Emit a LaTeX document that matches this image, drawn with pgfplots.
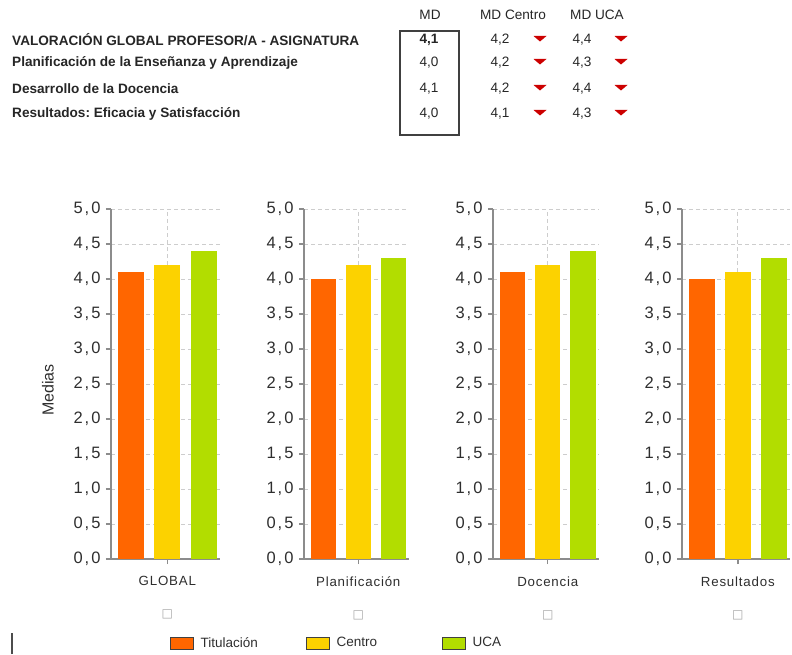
\documentclass[border=0pt]{standalone}
\usepackage{pgfplots}
\pgfplotsset{compat=1.18}
\usepackage{fontspec}
\setmainfont{Liberation Sans}
\newfontfamily\tickfont[LetterSpace=12]{Liberation Sans}
\newfontfamily\catfont[LetterSpace=6]{Liberation Sans}
\newfontfamily\symfont{DejaVu Sans}
\frenchspacing
\definecolor{cTit}{HTML}{FF6600}
\definecolor{cCen}{HTML}{FCD200}
\definecolor{cUCA}{HTML}{B2DD00}
\definecolor{axgray}{HTML}{8C8C8C}
\definecolor{gridgray}{HTML}{CDCDCD}
\definecolor{txt}{HTML}{2E2E2E}
\definecolor{tri}{HTML}{CC0000}
\pgfplotsset{panel/.style={
  scale only axis, width=#1, height=350pt, anchor=south west,
  xmin=-0.55, xmax=2.45, ymin=0, ymax=5,
  axis x line=bottom, axis y line=left,
  axis line style={-, axgray, line width=1.6pt},
  xtick={1}, ytick={0,0.5,1,1.5,2,2.5,3,3.5,4,4.5,5},
  yticklabels={{0,0},{0,5},{1,0},{1,5},{2,0},{2,5},{3,0},{3,5},{4,0},{4,5},{5,0}},
  tick align=outside, major tick length=5pt,
  tick style={axgray, line width=1.4pt},
  grid=major,
  major grid style={gridgray, dash pattern=on 4pt off 3pt, line width=0.9pt},
  yticklabel style={font=\tickfont\fontsize{16.5}{18}\selectfont, text=txt, xshift=-2pt},
  xticklabel style={font=\catfont\fontsize{13.3}{15}\selectfont, text=txt, align=center, yshift=-9pt},
  clip=false,
}}
\newcommand{\bx}{{\symfont\fontsize{12}{12}\selectfont\color{gray!70}□}}
\newcommand{\tr}[2]{\fill[tri] (#1pt-6.5pt,#2pt+2.5pt) -- (#1pt+6.5pt,#2pt+2.5pt) -- (#1pt,#2pt-3pt) -- cycle;}
\begin{document}
\begin{tikzpicture}
\useasboundingbox (0,0) rectangle (792pt,654pt);
% ---- top table ----
\begin{scope}[every node/.style={inner sep=0pt, text=black!85, font=\fontsize{13.6}{15}\selectfont}]
\node at (430pt,639pt) {MD};
\node at (513pt,639pt) {MD Centro};
\node at (597pt,639pt) {MD UCA};
\node[anchor=west, font=\fontsize{13.6}{15}\selectfont\bfseries] at (12pt,614pt) {VALORACIÓN GLOBAL PROFESOR/A - ASIGNATURA};
\node[anchor=west, font=\fontsize{13.6}{15}\selectfont\bfseries] at (12pt,591pt) {Planificación de la Enseñanza y Aprendizaje};
\node[anchor=west, font=\fontsize{13.6}{15}\selectfont\bfseries] at (12pt,565pt) {Desarrollo de la Docencia};
\node[anchor=west, font=\fontsize{13.6}{15}\selectfont\bfseries] at (12pt,540pt) {Resultados: Eficacia y Satisfacción};
\node[font=\fontsize{13.6}{15}\selectfont\bfseries] at (429pt,614pt) {4,1};
\node at (429pt,591pt) {4,0};
\node at (429pt,565pt) {4,1};
\node at (429pt,540pt) {4,0};
\node at (500pt,614pt) {4,2};
\node at (500pt,591pt) {4,2};
\node at (500pt,565pt) {4,2};
\node at (500pt,540pt) {4,1};
\node at (582pt,614pt) {4,4};
\node at (582pt,591pt) {4,3};
\node at (582pt,565pt) {4,4};
\node at (582pt,540pt) {4,3};
\end{scope}
\draw[line width=1.3pt, black!75] (400pt,519pt) rectangle (459pt,623pt);
\tr{540}{615.5}\tr{540}{592.5}\tr{540}{566.5}\tr{540}{541.5}
\tr{621}{615.5}\tr{621}{592.5}\tr{621}{566.5}\tr{621}{541.5}
% ---- panels ----
\begin{axis}[panel=109pt, at={(111pt,95pt)},
  xticklabels={{GLOBAL\\[17pt]\bx}},
  ylabel={Medias},
  ylabel style={at={(axis description cs:-0.578,0.483)}, anchor=center, font=\fontsize{16}{18}\selectfont, text=txt},
  legend columns=3,
  legend style={at={(axis description cs:0.535,-0.24)}, anchor=west, draw=none, fill=none,
    inner sep=0pt, column sep=0pt, font=\fontsize{13.5}{15}\selectfont, text=txt},
  legend image code/.code={\draw[#1, draw=black!75, line width=1pt] (0pt,-6pt) rectangle (23pt,6pt);},
]
\addplot[ybar, bar width=0.72, bar shift=0pt, fill=cTit, draw=none] coordinates {(0,4.1)};
\addlegendentry{\hspace{5pt}\makebox[103pt][l]{Titulación}}
\addplot[ybar, bar width=0.72, bar shift=0pt, fill=cCen, draw=none] coordinates {(1,4.2)};
\addlegendentry{\hspace{5pt}\makebox[103pt][l]{Centro}}
\addplot[ybar, bar width=0.72, bar shift=0pt, fill=cUCA, draw=none] coordinates {(2,4.4)};
\addlegendentry{\hspace{5pt}\makebox[103pt][l]{UCA}}
\end{axis}
\begin{axis}[panel=105pt, at={(304pt,95pt)}, xticklabels={{Planificación\\[17pt]\bx}}]
\addplot[ybar, bar width=0.72, bar shift=0pt, fill=cTit, draw=none] coordinates {(0,4.0)};
\addplot[ybar, bar width=0.72, bar shift=0pt, fill=cCen, draw=none] coordinates {(1,4.2)};
\addplot[ybar, bar width=0.72, bar shift=0pt, fill=cUCA, draw=none] coordinates {(2,4.3)};
\end{axis}
\begin{axis}[panel=106pt, at={(493pt,95pt)}, xticklabels={{Docencia\\[17pt]\bx}}]
\addplot[ybar, bar width=0.72, bar shift=0pt, fill=cTit, draw=none] coordinates {(0,4.1)};
\addplot[ybar, bar width=0.72, bar shift=0pt, fill=cCen, draw=none] coordinates {(1,4.2)};
\addplot[ybar, bar width=0.72, bar shift=0pt, fill=cUCA, draw=none] coordinates {(2,4.4)};
\end{axis}
\begin{axis}[panel=108pt, at={(682pt,95pt)}, xticklabels={{Resultados\\[17pt]\bx}}]
\addplot[ybar, bar width=0.72, bar shift=0pt, fill=cTit, draw=none] coordinates {(0,4.0)};
\addplot[ybar, bar width=0.72, bar shift=0pt, fill=cCen, draw=none] coordinates {(1,4.1)};
\addplot[ybar, bar width=0.72, bar shift=0pt, fill=cUCA, draw=none] coordinates {(2,4.3)};
\end{axis}
\draw[line width=2pt, black!70] (12pt,0pt) -- (12pt,21pt);
\end{tikzpicture}
\end{document}
